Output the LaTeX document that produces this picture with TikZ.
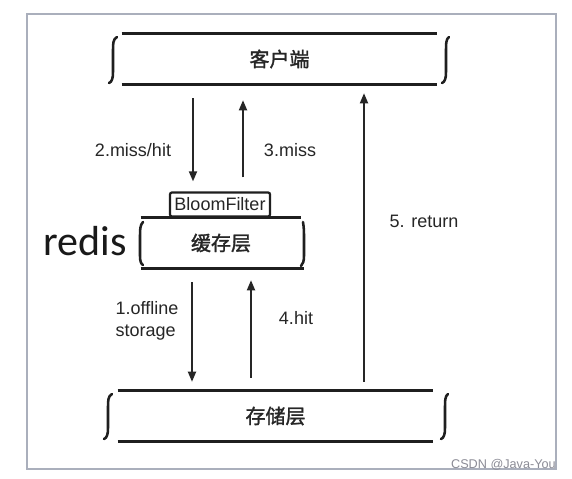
\documentclass[tikz,border=0pt]{standalone}
\usepackage{fontspec}
\setmainfont{Liberation Sans}
\newfontfamily\cjk[FakeBold=1.5]{Noto Sans CJK SC}
\newfontfamily\calfont{Carlito}
\usetikzlibrary{arrows.meta}
\begin{document}
\begin{tikzpicture}[x=0.75pt,y=-0.75pt,
  boxline/.style={line width=2.4pt,draw=black!88},
  bracel/.style={line width=1.9pt,draw=black!88,line cap=round},
  arr/.style={line width=1.3pt,draw=black!85,-{Triangle[length=7.5pt,width=6pt]}},
  lbl/.style={font=\fontsize{13.5}{15}\selectfont,text=black!85,inner sep=0pt,align=left},
  layer/.style={draw=none,inner sep=0pt,font=\cjk\fontsize{15}{17}\selectfont,text=black!85}]
\useasboundingbox (0,0) rectangle (572,479);
\fill[white] (0,0) rectangle (572,479);
\draw[line width=1pt,draw={rgb,255:red,170;green,175;blue,188}] (27,14) rectangle (556,469);

% top layer
\node[layer,minimum width=315*0.75pt,minimum height=50*0.75pt] (client) at (279.5,59) {客户端};
\draw[boxline] (client.north west) -- (client.north east);
\draw[boxline] (client.south west) -- (client.south east);
\draw[bracel] (117,37) .. controls (113,39) and (113,44) .. (113,50) -- (113,72) .. controls (113,78) and (112,82) .. (109,83);
\draw[bracel] (449,37) .. controls (446,39) and (446,44) .. (446,50) -- (446,72) .. controls (446,78) and (445,82) .. (442,83);

% bottom layer
\node[layer,minimum width=315*0.75pt,minimum height=50*0.75pt] (store) at (275.5,416) {存储层};
\draw[boxline] (store.north west) -- (store.north east);
\draw[boxline] (store.south west) -- (store.south east);
\draw[bracel] (112,394) .. controls (108,396) and (108,401) .. (108,407) -- (108,428) .. controls (108,434) and (107,438) .. (104,439);
\draw[bracel] (448,394) .. controls (445,396) and (445,401) .. (445,407) -- (445,428) .. controls (445,434) and (444,438) .. (441,439);

% cache layer
\node[layer,minimum width=160*0.75pt,minimum height=50*0.75pt] (cache) at (221,243) {缓存层};
\draw[boxline] (cache.north west) -- (cache.north east);
\draw[boxline] (cache.south west) -- ([xshift=3*0.75pt]cache.south east);
\draw[bracel] (143,222) .. controls (140,225) and (140,230) .. (140,236) -- (140,256) .. controls (140,261) and (141,264) .. (143,265);
\draw[bracel] (303,222) .. controls (304,228) and (304,232) .. (304,238) -- (304,256) .. controls (304,261) and (303,264) .. (301,266);
\node[draw=black!88,line width=1.7pt,rounded corners=1.5pt,inner sep=0pt,minimum width=100*0.75pt,minimum height=24*0.75pt,font=\fontsize{13.5}{15}\selectfont,text=black!85] (bloom) at (220,204.5) {BloomFilter};
\node[inner sep=0pt,font=\calfont\fontsize{31.5}{34}\selectfont,text=black!90] (redis) at (85,241) {redis};

% coordinates for connectors
\coordinate (c2) at (193,0);
\coordinate (c3) at (243,0);
\coordinate (c5) at (364,0);
\coordinate (c1) at (192,0);
\coordinate (c4) at (251,0);

\draw[arr,shorten <=14*0.75pt,shorten >=10*0.75pt] (client.south -| c2) -- (bloom.north -| c2);
\draw[arr,shorten <=14*0.75pt,shorten >=16*0.75pt] (bloom.north -| c3) -- (client.south -| c3);
\draw[arr,shorten <=9*0.75pt,shorten >=9*0.75pt] (store.north -| c5) -- (client.south -| c5);
\draw[arr,shorten <=14*0.75pt,shorten >=9*0.75pt] (cache.south -| c1) -- (store.north -| c1);
\draw[arr,shorten <=13*0.75pt,shorten >=12*0.75pt] (store.north -| c4) -- (cache.south -| c4);

\node[lbl] (l2) at (133,150) {2.miss/hit};
\node[lbl] (l3) at (290,150) {3.miss};
\node[lbl] (l5) at (424,221) {5. return};
\node[lbl,font=\fontsize{13.5}{16}\selectfont] (l1) at (147,321) {1.offline\\storage};
\node[lbl] (l4) at (296,318) {4.hit};

\node[inner sep=0pt,anchor=south east,font=\fontsize{9.5}{11}\selectfont,text={rgb,255:red,140;green,140;blue,150}] (wm) at (556,471) {CSDN @Java-You};
\end{tikzpicture}
\end{document}
